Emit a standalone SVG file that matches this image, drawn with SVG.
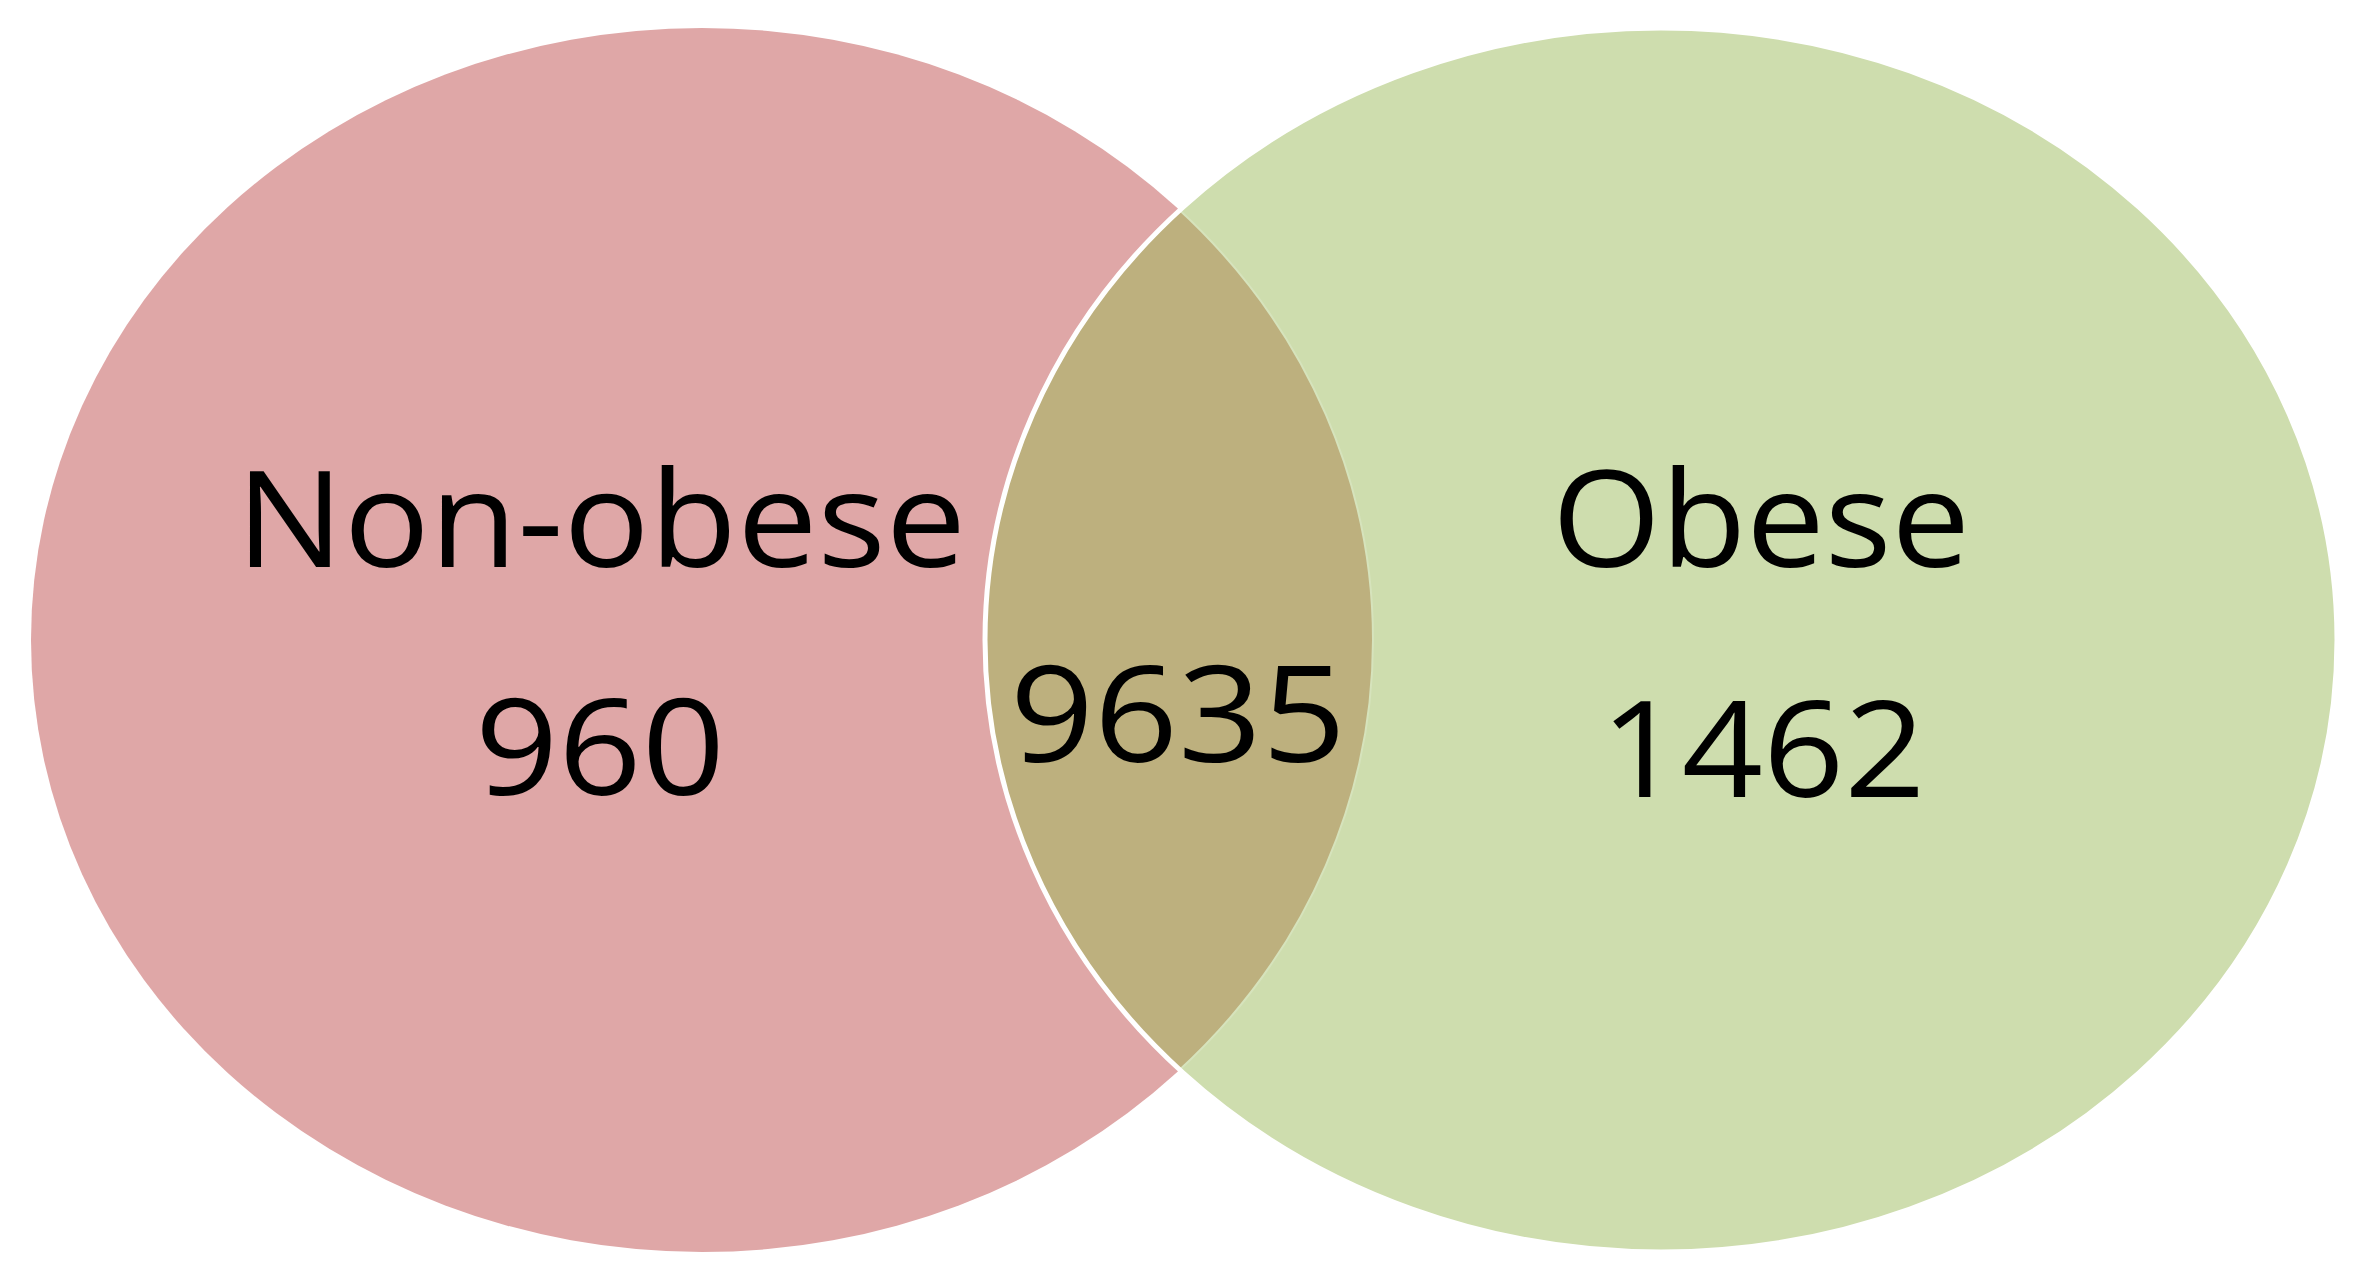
<svg xmlns="http://www.w3.org/2000/svg" width="2379" height="1288" viewBox="0 0 2379 1288">
<style>
.lbl{font-family:"Open Sans","Liberation Sans",sans-serif;font-size:134px;fill:#000;text-anchor:middle}
</style>
<defs>
<clipPath id="clipR"><ellipse cx="1661" cy="640" rx="676" ry="612"/></clipPath>
</defs>
<rect width="2379" height="1288" fill="#fff"/>
<g id="set-nonobese">
<ellipse cx="702" cy="640" rx="671" ry="612" fill="#DFA7A7"/>
</g>
<g id="set-obese">
<ellipse cx="1661" cy="640" rx="676" ry="612" fill="#CEDDAE"/>
</g>
<g id="overlap">
<ellipse cx="702" cy="640" rx="671" ry="612" fill="#BDB07E" clip-path="url(#clipR)" stroke="#D6E3BC" stroke-width="2"/>
<ellipse cx="1661" cy="640" rx="676" ry="612" fill="none" stroke="#fff" stroke-width="5"/>
</g>
<g id="connectors"></g>
<g id="labels">
<text class="lbl" x="601" y="567" textLength="730" lengthAdjust="spacingAndGlyphs">Non-obese</text>
<text class="lbl" x="600" y="795" textLength="250" lengthAdjust="spacingAndGlyphs">960</text>
<text class="lbl" x="1178" y="762" textLength="336" lengthAdjust="spacingAndGlyphs">9635</text>
<text class="lbl" x="1761" y="567" textLength="418" lengthAdjust="spacingAndGlyphs">Obese</text>
<text class="lbl" x="1763" y="797" textLength="325" lengthAdjust="spacingAndGlyphs">1462</text>
</g>
</svg>
